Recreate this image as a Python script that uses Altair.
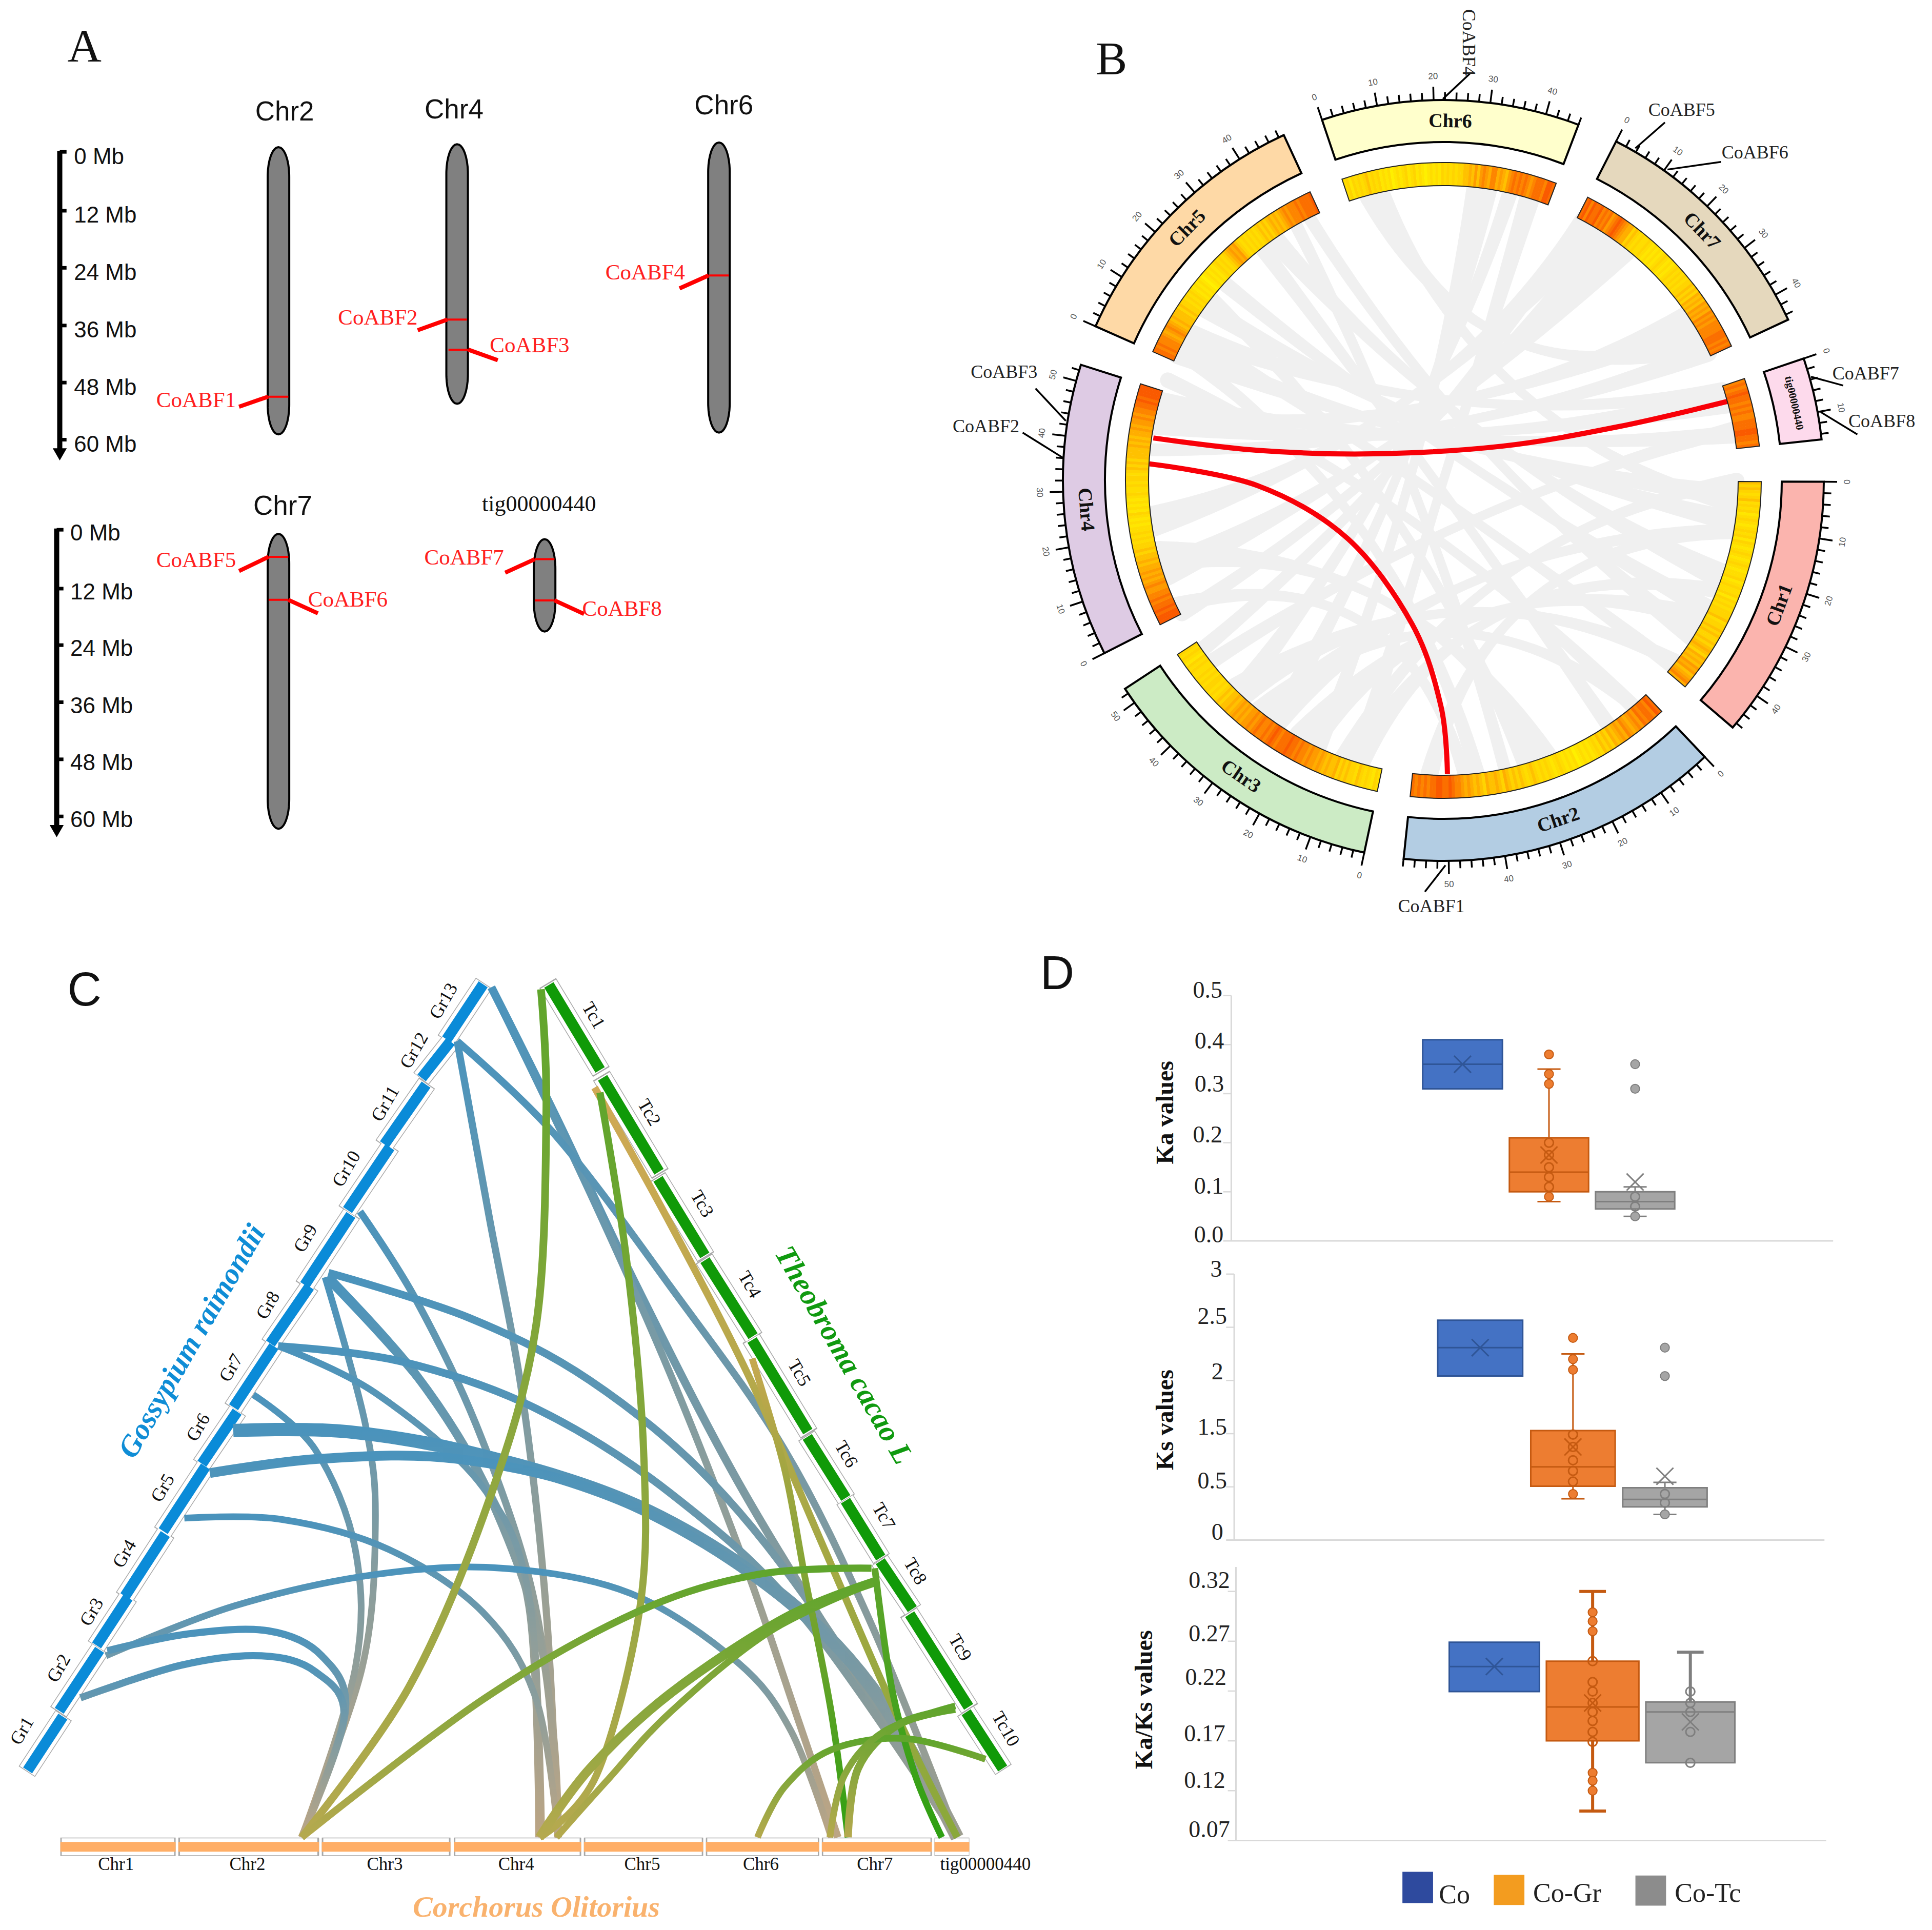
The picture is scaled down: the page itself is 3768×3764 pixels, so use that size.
import math
import altair as alt
import pandas as pd

# ---------- reading frames of the four panels ----------
def pa(x, y): return (x * 1884 / 1568, y * 1800 / 1568)
def pb(x, y): return (1800 + x * 1968 / 1568, y * 1800 / 1568)
def pc(x, y): return (x * 2050 / 1568, 1850 + y * 1914 / 1568)
def pd_(x, y): return (2000 + x * 1768 / 1568, 1850 + y * 1914 / 1568)

xs = alt.Scale(domain=[8, 3760], nice=False, zero=False)
ys = alt.Scale(domain=[8, 3756], nice=False, zero=False, reverse=True)
X = lambda f="x": alt.X(f + ":Q", scale=xs, axis=None)
Y = lambda f="y": alt.Y(f + ":Q", scale=ys, axis=None)
layers = []

SERIF = "Liberation Serif"
SANS = "Liberation Sans"

def text(rows, frame, size, font=SERIF, color="#111111", weight="normal", style="normal", align="center"):
    recs = []
    for r in rows:
        x, y = frame(r[0], r[1])
        recs.append({"x": x, "y": y, "t": r[2], "a": r[3] if len(r) > 3 else 0})
    layers.append(alt.Chart(pd.DataFrame(recs)).mark_text(
        font=font, fontSize=size, color=color, fontWeight=weight, fontStyle=style,
        align=align, baseline="middle").encode(
        x=X(), y=Y(), text="t:N", angle=alt.Angle("a:Q", scale=None)))

def rules(segs, frame, color, width, cap="butt", opacity=1):
    recs = []
    for s in segs:
        a = frame(s[0], s[1]); b = frame(s[2], s[3])
        recs.append({"x": a[0], "y": a[1], "x2": b[0], "y2": b[1]})
    layers.append(alt.Chart(pd.DataFrame(recs)).mark_rule(
        color=color, strokeWidth=width, strokeCap=cap, opacity=opacity).encode(
        x=X(), y=Y(), x2=alt.X2("x2:Q"), y2=alt.Y2("y2:Q")))

def curve(pts, frame, stroke, width, interp="cardinal"):
    recs = []
    for i, p in enumerate(pts):
        a = frame(p[0], p[1])
        recs.append({"x": a[0], "y": a[1], "i": i})
    layers.append(alt.Chart(pd.DataFrame(recs)).mark_line(
        stroke=stroke, strokeWidth=width, interpolate=interp).encode(
        x=X(), y=Y(), order="i:Q"))

def grad(c1, c2):
    return alt.LinearGradient(gradient="linear", x1=0, y1=0, x2=0, y2=1, stops=[
        alt.GradientStop(color=c1, offset=0), alt.GradientStop(color=c2, offset=1)])

# ---------- PANEL A : chromosome map ----------
text([(137, 80, "A")], pa, 92)
text([(462, 191, "Chr2"), (737, 187, "Chr4"), (1175, 180, "Chr6"), (459, 861, "Chr7")], pa, 53, font=SANS)
text([(875, 857, "tig00000440")], pa, 44)

mb_labels = ["0 Mb", "12 Mb", "24 Mb", "36 Mb", "48 Mb", "60 Mb"]
scale1_y = [258, 358, 455, 553, 650, 747]
scale2_y = [900, 1000, 1096, 1193, 1290, 1387]
rules([(97, 256, 97, 770), (92, 898, 92, 1410)], pa, "#000000", 10)
rules([(97, y, 108, y) for y in scale1_y] + [(92, y, 103, y) for y in scale2_y], pa, "#000000", 7)
arrow = [pa(97, 772), pa(92, 1412)]
layers.append(alt.Chart(pd.DataFrame({"x": [a[0] for a in arrow], "y": [a[1] for a in arrow]})).mark_point(
    shape="triangle-down", filled=True, color="#000000", size=750, opacity=1).encode(x=X(), y=Y()))
text([(120, y + 9, t) for y, t in zip(scale1_y, mb_labels)] + [(114, y + 7, t) for y, t in zip(scale2_y, mb_labels)],
     pa, 44, font=SANS, align="left")

chrom_x = [452, 742, 1167, 452, 884]
chrom_top = [250, 245, 242, 907, 916]
chrom_bot = [738, 686, 735, 1408, 1073]
end_steps = [0, 1, 3, 6, 10, 15, 22, 30, 38, 46, 50]
recs = []
for k, (cx, t, b) in enumerate(zip(chrom_x, chrom_top, chrom_bot)):
    L = 50
    ds = sorted(set(end_steps + [(b - t) - d for d in end_steps]))
    for d in ds:
        e = min(d, (b - t) - d)
        hw = 17.5 * math.sqrt(max(0, 1 - (1 - min(e, L) / L) ** 2))
        x1, y = pa(cx - hw, t + d)
        x2, _ = pa(cx + hw, t + d)
        recs.append({"id": k, "x": x1, "x2": x2, "y": y})
layers.append(alt.Chart(pd.DataFrame(recs)).mark_area(
    orient="horizontal", fill="#808080", stroke="#000000", strokeWidth=4).encode(
    y=Y(), x=X(), x2=alt.X2("x2:Q"), detail="id:N"))

gene_h = [(435, 674, 468, 674), (726, 543, 758, 543), (728, 594, 760, 594), (1150, 468, 1183, 468),
          (436, 946, 468, 946), (436, 1019, 468, 1019), (868, 950, 900, 950), (868, 1020, 900, 1020)]
gene_s = [(435, 674, 388, 691), (726, 543, 678, 561), (760, 594, 808, 612), (1150, 468, 1103, 490),
          (436, 946, 388, 970), (468, 1019, 516, 1042), (868, 950, 820, 973), (900, 1020, 948, 1043)]
rules(gene_h, pa, "#FF0000", 4)
rules(gene_s, pa, "#FF0000", 8)
text([(383, 680, "CoABF1"), (678, 540, "CoABF2"), (1112, 463, "CoABF4"), (383, 952, "CoABF5"), (818, 948, "CoABF7")],
     pa, 43, color="#FF2020", align="right")
text([(795, 587, "CoABF3"), (500, 1019, "CoABF6"), (945, 1035, "CoABF8")], pa, 43, color="#FF2020", align="left")

# ---------- PANEL B : circos ----------
CX, CY = 2815, 937
R_OUT, R_IN, T_OUT, T_IN, R_LINK = 742, 660, 620, 575, 572
def pol(theta, r):
    t = math.radians(theta)
    return (CX + r * math.sin(t), CY - r * math.cos(t))
def raw(x, y): return (x, y)

text([(293, 102, "B")], pb, 92)

sector_names = ["Chr1", "Chr2", "Chr3", "Chr4", "Chr5", "Chr6", "Chr7", "tig00000440"]
sector_start = [90.2, 136.6, 192.0, 243.0, 293.9, -18.6, 27.0, 71.3]
sector_end = [130.5, 186.0, 236.8, 287.7, 335.2, 20.8, 65.0, 83.8]
sector_mb = [47, 58, 53, 53, 49, 46, 45, 15]
sector_fill = ["#FBB4AE", "#B3CDE3", "#CCEBC5", "#DECBE4", "#FED9A6", "#FFFFCC", "#E5D8BD", "#FDDAEC"]

# gene density along every chromosome, one digit (0 low .. 9 high) per bin
density = {
 "Chr1": "4343234232312321232313212321232122312322313232333423343433434543545465645675",
 "Chr2": "8978878676567565453434232121210212123212323234323434345345445345456567789889988787878",
 "Chr3": "2312323423343435445456566767787889888789878778767665656545443432323323232232312323",
 "Chr4": "9998988787766765656554544343323232212123121212322323323434344445454556566767788989999",
 "Chr5": "8878777656765454443433232321212101212123232345656432323232343434545456767778788889",
 "Chr6": "2313232342323121201212312312101212132323233445464676577565467878787678887998",
 "Chr7": "8979889787867898765534323223212121232121232323233434354546565767677778887878",
 "tig00000440": "7878988787877888998878",
}
def heat_color(v):
    stops = [(0.0, (255, 240, 0)), (0.33, (255, 213, 0)), (0.66, (255, 157, 0)), (1.0, (250, 90, 0))]
    for (a, ca), (b, cb) in zip(stops, stops[1:]):
        if v <= b:
            f = (v - a) / (b - a)
            return "#%02x%02x%02x" % tuple(int(p + (q - p) * f) for p, q in zip(ca, cb))
    return "#fa5a00"

# grey ribbons: start angle, end angle, width at start, width at end
ribbons = [(-14,62,50,50),(-12,95,30,30),
           (6,205,30,30),(9,215,30,40),(13,224,30,40),(17,197,40,40),
           (30,262,70,60),(37,252,70,60),(28,235,30,30),(33,243,30,30),
           (57,282,60,60),(64,276,40,25),
           (74,281,55,40),(81,286,35,30),(72,300,30,40),
           (93,296,45,50),(98,306,40,40),(109,325,50,40),(116,312,40,30),(122,333,40,25),(129,300,30,30),
           (140,290,30,30),(146,322,30,30),(160,255,50,60),(164,308,30,30),(168,330,25,25),(173.5,296,30,30),
           (176,245,25,30),(182.7,100,35,30),
           (197,112,50,30),(200,90,30,30),(208,118,70,40),(216,100,70,30),(224,128,60,30),(232,80,30,30),(219,140,30,25)]
recs = []
for k, (a, b, wa, wb) in enumerate(ribbons):
    p, q = pol(a, R_LINK), pol(b, R_LINK)
    mid = 18
    ctrl_x = CX + 0.35 * ((p[0] + q[0]) / 2 - CX)
    ctrl_y = CY + 0.35 * ((p[1] + q[1]) / 2 - CY)
    for i in range(31):
        t = i / 30
        u = 1 - t
        x = u * u * p[0] + 2 * u * t * ctrl_x + t * t * q[0]
        y = u * u * p[1] + 2 * u * t * ctrl_y + t * t * q[1]
        s = abs(1 - 2 * t) ** 2
        w = mid + ((wa if t < 0.5 else wb) - mid) * s
        recs.append({"k": k, "i": i, "x": x, "y": y, "w": w})
layers.append(alt.Chart(pd.DataFrame(recs)).mark_trail(color="#F0F0F0").encode(
    x=X(), y=Y(), order="i:Q", detail="k:N", size=alt.Size("w:Q", scale=None)))

curve([(358, 744), (520, 765), (700, 771), (900, 758), (1080, 725), (1250, 682)], pb, "#F80008", 10)
curve([(352, 788), (520, 825), (660, 915), (760, 1060), (805, 1200), (815, 1315)], pb, "#F80008", 10)

rad = math.radians
def arc_enc():
    return dict(x=X(), y=Y(),
                theta=alt.Theta("t1:Q", scale=None), theta2=alt.Theta2("t2:Q"),
                radius=alt.Radius("r1:Q", scale=None), radius2=alt.Radius2("r2:Q"))

sec = pd.DataFrame([{"x": CX, "y": CY, "t1": rad(s), "t2": rad(e), "r1": R_OUT, "r2": R_IN, "f": f}
                    for s, e, f in zip(sector_start, sector_end, sector_fill)])
layers.append(alt.Chart(sec).mark_arc(stroke="#000000", strokeWidth=4).encode(
    fill=alt.Fill("f:N", scale=None), **arc_enc()))

recs = []
for nm, s, e in zip(sector_names, sector_start, sector_end):
    d = density[nm]
    st = (e - s) / len(d)
    for i, ch in enumerate(d):
        recs.append({"x": CX, "y": CY, "t1": rad(s + i * st), "t2": rad(min(e, s + (i + 1) * st + 0.05)),
                     "r1": T_OUT, "r2": T_IN, "f": heat_color(int(ch) / 9)})
layers.append(alt.Chart(pd.DataFrame(recs)).mark_arc().encode(fill=alt.Fill("f:N", scale=None), **arc_enc()))
trk = pd.DataFrame([{"x": CX, "y": CY, "t1": rad(s), "t2": rad(e), "r1": T_OUT, "r2": T_IN}
                    for s, e in zip(sector_start, sector_end)])
layers.append(alt.Chart(trk).mark_arc(fillOpacity=0, stroke="#222222", strokeWidth=2).encode(**arc_enc()))

# ticks in Mb along every sector
major, minor, labs = [], [], []
for nm, s, e, L in zip(sector_names, sector_start, sector_end, sector_mb):
    for mb in range(0, L + 1, 2):
        th = s + (e - s) * mb / L
        p = pol(th, R_OUT)
        if mb % 10 == 0:
            q = pol(th, R_OUT + 26)
            major.append((p[0], p[1], q[0], q[1]))
            l = pol(th, R_OUT + 46)
            norm = th % 360
            labs.append((l[0], l[1], str(mb), norm - 180 if 90 < norm < 270 else norm))
        else:
            q = pol(th, R_OUT + 15)
            minor.append((p[0], p[1], q[0], q[1]))
rules(major, raw, "#000000", 3.5)
rules(minor, raw, "#000000", 3.5)
text(labs, raw, 17, font=SANS, color="#555555")

names = []
for nm, s, e in zip(sector_names, sector_start, sector_end):
    if nm.startswith("Chr"):
        th = (s + e) / 2
        p = pol(th, 700)
        norm = th % 360
        names.append((p[0], p[1], nm, norm - 180 if 90 < norm < 270 else norm))
text(names, raw, 38, weight="bold")
th = (71.3 + 83.8) / 2
p = pol(th, 700)
text([(p[0], p[1], "tig00000440", th)], raw, 21, weight="bold")

rules([(808, 168, 850, 125), (1107, 252, 1153, 208), (1157, 288, 1240, 275), (1380, 640, 1430, 655),
       (1395, 700, 1452, 738), (222, 715, 175, 660), (218, 778, 155, 735), (812, 1470, 780, 1515)], pb, "#000000", 3.5)
text([(848, 72, "CoABF4", 90), (1179, 187, "CoABF5"), (1293, 260, "CoABF6"), (1465, 635, "CoABF7"),
      (1490, 716, "CoABF8"), (126, 632, "CoABF3"), (98, 725, "CoABF2"), (790, 1540, "CoABF1")], pb, 36, color="#222222")

# ---------- PANEL C : synteny triangle ----------
text([(126, 68, "C")], pc, 92, font=SANS)
Gr_names = ["Gr%d" % i for i in range(1, 14)]
Gr_seg = [(40,1315,95,1225),(87,1220,150,1118),(143,1115,192,1035),(185,1037,248,933),(242,933,308,825),
          (300,825,355,738),(347,735,410,633),(402,633,463,538),(453,540,525,423),(517,420,583,315),
          (572,315,637,215),(628,208,673,147),(665,147,722,55)]
Gr_lab = [(33,1250),(88,1150),(137,1060),(186,967),(243,862),(296,765),(345,670),(400,570),(456,463),
          (517,352),(575,248),(618,163),(662,84)]
Tc_names = ["Tc%d" % i for i in range(1, 11)]
Tc_seg = [(817,55,897,197),(897,203,985,360),(980,365,1053,493),(1050,495,1125,622),(1120,622,1207,775),
          (1203,778,1263,880),(1260,880,1315,975),(1312,977,1362,1057),(1355,1060,1447,1215),(1440,1218,1497,1312)]
Tc_lab = [(885,107),(968,262),(1047,408),(1118,537),(1192,678),(1262,808),(1318,907),(1365,995),(1432,1117),(1500,1247)]
Co_names = ["Chr1", "Chr2", "Chr3", "Chr4", "Chr5", "Chr6", "Chr7", "tig00000440"]
Co_left = [90, 266, 480, 677, 871, 1053, 1226, 1394]
Co_right = [262, 476, 672, 867, 1049, 1222, 1390, 1446]
Co_lab = [173, 369, 574, 770, 958, 1135, 1305, 1470]
Co_seg = [(l, 1435, r, 1435) for l, r in zip(Co_left, Co_right)]

def inset(s, f=0.02):
    dx, dy = s[2] - s[0], s[3] - s[1]
    return (s[0] + dx * f, s[1] + dy * f, s[2] - dx * f, s[3] - dy * f)
rules(Gr_seg + Tc_seg, pc, "#A8A8A8", 38)
rules(Co_seg, pc, "#A8A8A8", 36)
rules([inset(s, 0.012) for s in Gr_seg + Tc_seg], pc, "#FFFFFF", 35)
rules([inset(s, 0.012) for s in Co_seg], pc, "#FFFFFF", 33)
rules([inset(s, 0.022) for s in Gr_seg], pc, "#0A8BD8", 21)
rules([inset(s, 0.022) for s in Tc_seg], pc, "#109A08", 21)
rules(Co_seg, pc, "#FFAE66", 19)

BLUE, TAN, GREY = "#4A93BC", "#BCA584", "#9E9E90"
GRN, OLV = "#5FA52C", "#B5A94E"
links = [
 ([(733,62),(830,270),(950,540),(1100,850),(1270,1150),(1428,1420)], BLUE, GREY, 16),
 ([(733,62),(880,390),(1000,680),(1110,980),(1190,1230),(1250,1420)], BLUE, TAN, 14),
 ([(682,148),(830,300),(1000,540),(1170,800),(1300,1080),(1428,1420)], BLUE, GREY, 14),
 ([(682,148),(730,430),(780,720),(815,1060),(832,1420)], BLUE, TAN, 14),
 ([(537,420),(620,560),(710,760),(790,1010),(825,1250),(833,1420)], BLUE, TAN, 14),
 ([(490,518),(700,590),(880,690),(1060,850),(1230,1080),(1428,1420)], BLUE, GREY, 15),
 ([(485,525),(545,760),(560,920),(540,1150),(450,1420)], BLUE, TAN, 13),
 ([(490,525),(620,680),(720,850),(790,1050),(805,1420)], BLUE, TAN, 17),
 ([(490,530),(640,710),(740,900),(810,1130),(833,1420)], BLUE, TAN, 14),
 ([(415,635),(600,660),(800,735),(1000,870),(1200,1070),(1428,1420)], BLUE, GREY, 15),
 ([(415,635),(560,710),(720,860),(790,1040),(808,1420)], BLUE, TAN, 13),
 ([(378,713),(470,800),(530,960),(530,1150),(450,1420)], BLUE, TAN, 13),
 ([(348,770),(520,772),(720,810),(950,890),(1150,1020),(1300,1180),(1428,1420)], BLUE, GREY, 26),
 ([(313,838),(480,815),(680,815),(900,870),(1120,1000),(1290,1170),(1428,1420)], BLUE, GREY, 19),
 ([(275,910),(420,912),(580,960),(720,1060),(800,1200),(833,1420)], BLUE, TAN, 13),
 ([(158,1130),(350,1050),(560,1000),(750,990),(940,1030),(1100,1140),(1180,1250),(1240,1420)], BLUE, TAN, 13),
 ([(160,1122),(280,1095),(400,1090),(480,1130),(515,1220),(450,1420)], BLUE, TAN, 14),
 ([(120,1197),(270,1145),(390,1130),(470,1155),(513,1230),(450,1420)], BLUE, TAN, 14),
 ([(807,65),(815,260),(800,600),(730,880),(610,1180),(450,1420)], GRN, OLV, 15),
 ([(887,222),(1000,440),(1120,690),(1230,960),(1340,1230),(1428,1420)], "#D1A955", "#8AA83A", 14),
 ([(895,230),(935,500),(960,800),(955,1050),(890,1320),(805,1420)], GRN, OLV, 14),
 ([(1122,655),(1170,830),(1200,1000),(1240,1220),(1265,1420)], "#C6A850", "#2FA012", 13),
 ([(1300,990),(1130,1000),(950,1060),(720,1200),(450,1420)], GRN, OLV, 14),
 ([(1310,1010),(1170,1070),(1000,1190),(880,1310),(805,1420)], GRN, OLV, 18),
 ([(1310,1010),(1150,1090),(1000,1220),(905,1330),(830,1420)], GRN, OLV, 13),
 ([(1305,990),(1330,1180),(1365,1320),(1405,1420)], GRN, "#2FA012", 13),
 ([(1425,1215),(1340,1240),(1280,1310),(1265,1420)], GRN, OLV, 15),
 ([(1470,1295),(1350,1262),(1240,1280),(1170,1340),(1130,1420)], GRN, OLV, 13),
 ([(1425,1210),(1320,1250),(1260,1320),(1238,1420)], GRN, OLV, 13),
]
for pts, c1, c2, w in links:
    curve(pts, pc, grad(c1, c2), w)

text([(a, b, n, -60) for (a, b), n in zip(Gr_lab, Gr_names)], pc, 36)
text([(a, b, n, 60) for (a, b), n in zip(Tc_lab, Tc_names)], pc, 36)
text([(x, 1463, n) for x, n in zip(Co_lab, Co_names)], pc, 35)
text([(287, 628, "Gossypium raimondii", -60)], pc, 58, color="#0F8DD6", weight="bold", style="italic")
text([(1258, 650, "Theobroma cacao L", 60)], pc, 58, color="#109A10", weight="bold", style="italic")
text([(800, 1533, "Corchorus Olitorius")], pc, 58, color="#F9B26E", weight="bold", style="italic")

# ---------- PANEL D : box plots ----------
text([(55, 42, "D")], pd_, 92, font=SANS)
box_fill = ["#4472C4", "#ED7D31", "#A5A5A5"]
box_edge = ["#2F5597", "#C55A11", "#7F7F7F"]

panels = [
 dict(title="Ka values", tx=243, ty=262, ax=356, x_end=1397, top=75, base=467, vmin=0.0, vmax=0.5,
      ticks=[0, .1, .2, .3, .4, .5], tick_lab=["0.0", "0.1", "0.2", "0.3", "0.4", "0.5"],
      lab_x=[317, 317, 315, 318, 318, 315], lab_y=[458, 380, 298, 217, 148, 67],
      left=[687, 837, 986], right=[825, 974, 1123],
      q3=[.41, .21, .10], q1=[.31, .10, .065], med=[.36, .14, .08], mean=[.36, .175, .12],
      wh_top=[None, .35, .11], wh_bot=[None, .08, .05], cap=20, wh=3,
      out=[[], [.38, .34, .32, .09], [.36, .31, .05]], inner=[[], [.2, .175, .15, .13, .11], [.09, .07]]),
 dict(title="Ks values", tx=243, ty=753, ax=361, x_end=1382, top=520, base=945, vmin=0.0, vmax=3.0,
      ticks=[0, .6, 1.2, 1.8, 2.4, 3.0], tick_lab=["0", "0.5", "1.5", "2", "2.5", "3"],
      lab_x=[332, 323, 323, 332, 323, 330], lab_y=[933, 851, 765, 677, 588, 513],
      left=[713, 874, 1033], right=[860, 1020, 1179],
      q3=[2.48, 1.235, .59], q1=[1.85, .607, .374], med=[2.17, .826, .459], mean=[2.17, 1.05, .72],
      wh_top=[None, 2.10, .65], wh_bot=[None, .466, .29], cap=20, wh=3,
      out=[[], [2.28, 2.04, 1.92, .52], [2.17, 1.85, .29]], inner=[[], [1.19, 1.05, .9, .78, .66], [.52, .42]]),
 dict(title="Ka/Ks values", tx=207, ty=1200, ax=364, x_end=1385, top=988, base=1425, vmin=.07, vmax=.3445,
      ticks=[.07, .12, .17, .22, .27, .32], tick_lab=["0.07", "0.12", "0.17", "0.22", "0.27", "0.32"],
      lab_x=[318, 310, 310, 312, 318, 318], lab_y=[1408, 1330, 1255, 1165, 1095, 1010],
      left=[733, 901, 1073], right=[889, 1061, 1227],
      q3=[.269, .25, .209], q1=[.2195, .17, .148], med=[.2446, .204, .199], mean=[.2446, .208, .189],
      wh_top=[None, .32, .259], wh_bot=[None, .0995, None], cap=23, wh=6,
      out=[[], [.299, .29, .28, .138, .13, .12], []],
      inner=[[], [.25, .229, .2195, .208, .199, .19, .179, .169], [.2195, .208, .199, .179, .148]]),
]

for P in panels:
    vy = lambda v, P=P: P["base"] - (v - P["vmin"]) / (P["vmax"] - P["vmin"]) * (P["base"] - P["top"])
    rules([(P["ax"], P["top"], P["ax"], P["base"]), (P["ax"] - 14, P["base"], P["x_end"], P["base"])], pd_, "#D9D9D9", 3)
    rules([(P["ax"] - 14, vy(t), P["ax"], vy(t)) for t in P["ticks"][1:]], pd_, "#D9D9D9", 2.5)
    text([(a, b, t) for a, b, t in zip(P["lab_x"], P["lab_y"], P["tick_lab"])], pd_, 46, color="#222222")
    text([(P["tx"], P["ty"], P["title"], -90)], pd_, 48, weight="bold")
    centers = [(l + r) / 2 for l, r in zip(P["left"], P["right"])]
    for i in (1, 2):
        if P["wh_top"][i] is not None:
            rules([(centers[i], vy(P["q3"][i]), centers[i], vy(P["wh_top"][i])),
                   (centers[i] - P["cap"], vy(P["wh_top"][i]), centers[i] + P["cap"], vy(P["wh_top"][i]))],
                  pd_, box_edge[i], P["wh"])
        if P["wh_bot"][i] is not None:
            rules([(centers[i], vy(P["q1"][i]), centers[i], vy(P["wh_bot"][i])),
                   (centers[i] - P["cap"], vy(P["wh_bot"][i]), centers[i] + P["cap"], vy(P["wh_bot"][i]))],
                  pd_, box_edge[i], P["wh"])
    recs = []
    for i in range(3):
        x1, y1 = pd_(P["left"][i], vy(P["q3"][i]))
        x2, y2 = pd_(P["right"][i], vy(P["q1"][i]))
        recs.append({"x": x1, "x2": x2, "y": y1, "y2": y2, "f": box_fill[i], "s": box_edge[i]})
    layers.append(alt.Chart(pd.DataFrame(recs)).mark_rect(strokeWidth=3).encode(
        x=X(), x2=alt.X2("x2:Q"), y=Y(), y2=alt.Y2("y2:Q"),
        fill=alt.Fill("f:N", scale=None), stroke=alt.Stroke("s:N", scale=None)))
    for i in range(3):
        rules([(P["left"][i], vy(P["med"][i]), P["right"][i], vy(P["med"][i]))], pd_, box_edge[i], 3)
    recs = []
    for i in range(3):
        for v in P["out"][i]:
            a = pd_(centers[i], vy(v))
            recs.append({"x": a[0], "y": a[1], "f": box_fill[i], "s": box_edge[i]})
    if recs:
        layers.append(alt.Chart(pd.DataFrame(recs)).mark_point(filled=True, shape="circle", size=300, opacity=1, strokeWidth=2).encode(
            x=X(), y=Y(), fill=alt.Fill("f:N", scale=None), stroke=alt.Stroke("s:N", scale=None)))
    recs = []
    for i in range(3):
        for v in P["inner"][i]:
            a = pd_(centers[i], vy(v))
            recs.append({"x": a[0], "y": a[1], "s": box_edge[i]})
    if recs:
        layers.append(alt.Chart(pd.DataFrame(recs)).mark_point(shape="circle", size=300, opacity=1, strokeWidth=3).encode(
            x=X(), y=Y(), stroke=alt.Stroke("s:N", scale=None)))
    recs = []
    for i in range(3):
        a = pd_(centers[i], vy(P["mean"][i]))
        recs.append({"x": a[0], "y": a[1], "s": box_edge[i]})
    layers.append(alt.Chart(pd.DataFrame(recs)).mark_point(
        shape="M -1 -1 L 1 1 M 1 -1 L -1 1", size=1100, opacity=1, strokeWidth=3).encode(
        x=X(), y=Y(), stroke=alt.Stroke("s:N", scale=None)))

legend_names = ["Co", "Co-Gr", "Co-Tc"]
legend_fill = ["#2E4A9E", "#F39C1F", "#8C8C8C"]
legend_left = [652, 810, 1055]
legend_right = [705, 863, 1108]
legend_top = [1475, 1480, 1481]
legend_bot = [1525, 1528, 1529]
recs = []
for l, r, t, b, f in zip(legend_left, legend_right, legend_top, legend_bot, legend_fill):
    x1, y1 = pd_(l, t); x2, y2 = pd_(r, b)
    recs.append({"x": x1, "x2": x2, "y": y1, "y2": y2, "f": f})
layers.append(alt.Chart(pd.DataFrame(recs)).mark_rect().encode(
    x=X(), x2=alt.X2("x2:Q"), y=Y(), y2=alt.Y2("y2:Q"), fill=alt.Fill("f:N", scale=None)))
text([(715, 1512, "Co"), (878, 1510, "Co-Gr"), (1123, 1510, "Co-Tc")], pd_, 52, color="#222222", align="left")

chart = alt.layer(*layers).properties(width=3752, height=3748, padding=0, autosize="none", background="white").configure_view(stroke=None)
chart.save("out.html", embed_options={"renderer": "svg", "actions": False})
